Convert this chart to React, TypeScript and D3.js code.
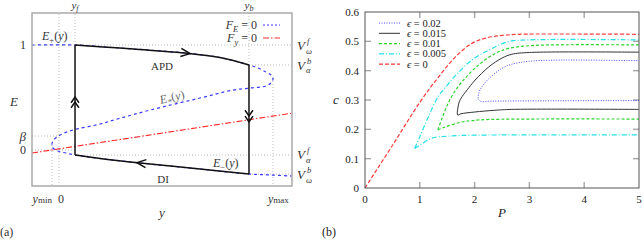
import * as d3 from "d3";

type Pt = [number, number];

// ---------- panel (a): schematic (y, E) phase plane ----------
// F_E = 0 nullcline, upper / middle / lower branches, as [y, E]
const eUpper: Pt[] = [[-0.126, 1], [0.075, 1], [0.285, 0.971], [0.589, 0.924], [0.752, 0.881], [0.888, 0.81]];
const eMiddle: Pt[] = [
  [0.93, 0.781], [0.967, 0.743], [0.991, 0.714], [1.0, 0.686], [0.995, 0.648], [0.967, 0.61],
  [0.893, 0.59], [0.813, 0.571], [0.659, 0.495], [0.425, 0.38], [0.285, 0.302], [0.192, 0.248],
  [0.065, 0.19], [0.014, 0.152], [-0.009, 0.124], [-0.028, 0.086], [-0.033, 0.048],
  [-0.028, 0.019], [-0.005, -0.01], [0.033, -0.029],
];
const eLower: Pt[] = [[0.075, -0.048], [0.192, -0.081], [0.379, -0.124], [0.659, -0.181], [0.888, -0.229], [0.986, -0.238], [1.089, -0.248]];
// F_y = 0 nullcline (straight)
const fyLine: Pt[] = [[-0.126, -0.029], [1.089, 0.351]];

const yF = 0.075, yB = 0.888, yMin = -0.033, yMax = 1.0;
const vOmegaF = 1, vAlphaB = 0.81, beta = 0.133, vAlphaF = -0.048, vOmegaB = -0.229;

// ---------- panel (b): c against P ----------
const pTicks = [0, 1, 2, 3, 4, 5];
const cTicks = [0, 0.1, 0.2, 0.3, 0.4, 0.5, 0.6];

const eps0: Pt[] = [[0, 0], [0.5, 0.145], [1.0, 0.292], [1.34, 0.378], [1.65, 0.447], [1.95, 0.493], [2.2, 0.511], [2.5, 0.52], [2.8, 0.524], [3.5, 0.525], [5, 0.524]];
const eps005Up: Pt[] = [[0.907, 0.135], [1.0, 0.175], [1.15, 0.24], [1.33, 0.31], [1.5, 0.35], [1.65, 0.383], [1.95, 0.436], [2.26, 0.47], [2.62, 0.499], [3.0, 0.505], [5, 0.505]];
const eps005Low: Pt[] = [[0.907, 0.135], [1.01, 0.147], [1.22, 0.17], [1.53, 0.177], [2.0, 0.18], [3, 0.181], [5, 0.181]];
const eps01Up: Pt[] = [[1.33, 0.198], [1.4, 0.235], [1.5, 0.282], [1.6, 0.318], [1.77, 0.362], [2.07, 0.419], [2.38, 0.459], [2.62, 0.476], [3.0, 0.485], [3.5, 0.488], [5, 0.488]];
const eps01Low: Pt[] = [[1.33, 0.198], [1.46, 0.208], [1.77, 0.225], [2.08, 0.232], [3, 0.235], [5, 0.235]];
const eps015: Pt[] = [
  [5, 0.268], [2.68, 0.268], [2.37, 0.265], [2.0, 0.259], [1.75, 0.253], [1.69, 0.249],
  [1.695, 0.272], [1.72, 0.294], [1.77, 0.311], [1.9, 0.343], [2.01, 0.368], [2.26, 0.413],
  [2.5, 0.443], [2.68, 0.456], [3.0, 0.462], [5, 0.463],
];
const eps02: Pt[] = [
  [5, 0.298], [3, 0.297], [2.3, 0.296], [2.12, 0.295], [2.07, 0.302], [2.07, 0.318], [2.1, 0.335],
  [2.18, 0.356], [2.26, 0.373], [2.5, 0.408], [2.68, 0.422], [3.0, 0.432], [3.5, 0.436], [5, 0.434],
];
const epsLabels = ["0.02", "0.015", "0.01", "0.005", "0"];

const FONT = "'Liberation Serif', 'Times New Roman', serif";

function chevron(tx: number, ty: number, dx: number, dy: number, len: number, half: number) {
  const n = Math.hypot(dx, dy);
  const bx = -dx / n, by = -dy / n;
  const c = Math.cos(half), s = Math.sin(half);
  const a1 = [bx * c - by * s, bx * s + by * c];
  const a2 = [bx * c + by * s, -bx * s + by * c];
  return `M${tx + len * a1[0]},${ty + len * a1[1]}L${tx},${ty}L${tx + len * a2[0]},${ty + len * a2[1]}`;
}

const App = () => {
  // panel (a) scales
  const ys = d3.scaleLinear([-0.126, 1.089], [32, 292]);
  const es = d3.scaleLinear([-0.343, 1.305], [186, 13]);
  const lineA = d3.line<Pt>((d) => ys(d[0]), (d) => es(d[1])).curve(d3.curveCatmullRom.alpha(0.5));
  const nullcline = [...eUpper, ...eMiddle, ...eLower];
  const apd = eUpper.filter((d) => d[0] >= yF);
  const di = eLower.filter((d) => d[0] <= yB);
  const leftTurn = d3.least(eMiddle, (d) => d[0])!;
  const rightTurn = d3.greatest(eMiddle, (d) => d[0])!;
  const yTop = es.domain()[1], yBot = es.domain()[0];
  const yL = ys.domain()[0], yR = ys.domain()[1];

  const interp = (br: Pt[], y: number) => {
    for (let i = 0; i < br.length - 1; i++) {
      const [a, b] = [br[i], br[i + 1]];
      if (y >= a[0] && y <= b[0]) {
        const t = (y - a[0]) / (b[0] - a[0]);
        return { e: a[1] + t * (b[1] - a[1]), dx: ys(b[0]) - ys(a[0]), dy: es(b[1]) - es(a[1]) };
      }
    }
    return { e: br[0][1], dx: 1, dy: 0 };
  };
  const topArrow = interp(apd, 0.612);
  const botArrow = interp(di, 0.364);

  const guides: [number, number, number, number][] = [
    [0, yBot, 0, yTop],
    [yF, vOmegaF, yF, yTop],
    [yB, vAlphaB, yB, yTop],
    [yMin, leftTurn[1], yMin, yBot],
    [yMax, rightTurn[1], yMax, yBot],
    [yL, vOmegaF, yR, vOmegaF],
    [yB, vAlphaB, yR, vAlphaB],
    [yL, beta, 0, beta],
    [yL, 0, yF, 0],
    [yF, vAlphaF, yR, vAlphaF],
    [yB, vOmegaB, yR, vOmegaB],
  ];

  // panel (b) scales
  const xs = d3.scaleLinear([0, 5], [365, 639]);
  const cs = d3.scaleLinear([0, 0.6], [188, 12]);
  const lineB = d3.line<Pt>((d) => xs(d[0]), (d) => cs(d[1])).curve(d3.curveCatmullRom.alpha(0.5));
  const series = [
    { paths: [eps02], stroke: "#4a4aff", dash: "1,1.5", w: 1 },
    { paths: [eps015], stroke: "#333", dash: "none", w: 1 },
    { paths: [eps01Up, eps01Low], stroke: "#2ad62a", dash: "3,2", w: 1.2 },
    { paths: [eps005Up, eps005Low], stroke: "#22e0e6", dash: "5,2,1,2", w: 1.2 },
    { paths: [eps0], stroke: "#ff3a3a", dash: "4,2", w: 1.2 },
  ];

  const sub = 8.5;
  const vLabel = (x: number, y: number, sup: string, subs: string) => (
    <text x={x} y={y} fontSize={13} fill="#333">
      <tspan fontStyle="italic">V</tspan>
      <tspan x={x + 10} dy={-6} fontSize={sub} fontStyle="italic">{sup}</tspan>
      <tspan x={x + 9} dy={9.5} fontSize={sub} fontStyle="italic">{subs}</tspan>
    </text>
  );

  return (
    <svg width={644} height={240} style={{ position: "absolute", left: 0, top: 0 }} fontFamily={FONT}>
      {/* ---------- (a) ---------- */}
      <g fill="none" stroke="#aaa" strokeWidth={0.8} strokeDasharray="1,2">
        {guides.map((g, i) => (
          <line key={i} x1={ys(g[0])} y1={es(g[1])} x2={ys(g[2])} y2={es(g[3])} />
        ))}
      </g>
      <path d={lineA(nullcline)!} fill="none" stroke="#3b3bff" strokeWidth={1.2} strokeDasharray="3,3" />
      <path d={d3.line<Pt>((d) => ys(d[0]), (d) => es(d[1]))(fyLine)!} fill="none" stroke="#ff2a2a" strokeWidth={1.1} strokeDasharray="6,2,1.5,2" />
      <g fill="none" stroke="#111" strokeWidth={1.5}>
        <path d={lineA(apd)!} />
        <path d={lineA(di)!} />
        <line x1={ys(yB)} y1={es(vAlphaB)} x2={ys(yB)} y2={es(vOmegaB)} />
        <line x1={ys(yF)} y1={es(vAlphaF)} x2={ys(yF)} y2={es(vOmegaF)} />
        <path d={chevron(ys(0.612), es(topArrow.e), topArrow.dx, topArrow.dy, 10, 0.42)} />
        <path d={chevron(ys(0.364), es(botArrow.e), -botArrow.dx, -botArrow.dy, 10, 0.42)} />
        <path d={chevron(ys(yF), es(0.505), 0, -1, 7, 0.6)} />
        <path d={chevron(ys(yF), es(0.457), 0, -1, 7, 0.6)} />
        <path d={chevron(ys(yB), es(0.324), 0, 1, 7, 0.6)} />
        <path d={chevron(ys(yB), es(0.267), 0, 1, 7, 0.6)} />
      </g>
      <rect x={32} y={13} width={260} height={173} fill="none" stroke="#aaa" strokeWidth={1.5} />

      <g fill="#333" fontSize={12}>
        <text x={ys(yF)} y={9} textAnchor="middle" fontSize={11}><tspan fontStyle="italic">y</tspan><tspan fontSize={8} fontStyle="italic" dy={1.5}>f</tspan></text>
        <text x={ys(yB)} y={9} textAnchor="middle" fontSize={11}><tspan fontStyle="italic">y</tspan><tspan fontSize={8} fontStyle="italic" dy={1.5}>b</tspan></text>
        <text x={26} y={es(vOmegaF) + 4} textAnchor="end">1</text>
        <text x={26} y={es(beta) + 5} textAnchor="end" fontStyle="italic" fontSize={13}>β</text>
        <text x={26} y={es(0) + 4} textAnchor="end">0</text>
        <text x={14} y={es(0.46) + 4} textAnchor="middle" fontStyle="italic" fontSize={13}>E</text>
        <text x={42} y={40}><tspan fontStyle="italic">E</tspan><tspan fontSize={sub} dy={3}>+</tspan><tspan dy={-3}>(</tspan><tspan fontStyle="italic">y</tspan>)</text>
        <text x={162} y={70} textAnchor="middle" fontSize={11}>APD</text>
        <text x={172} y={101} textAnchor="middle" fill="#666" transform="rotate(-14 172 97)"><tspan fontStyle="italic">E</tspan><tspan fontSize={sub} dy={3}>*</tspan><tspan dy={-3}>(</tspan><tspan fontStyle="italic">y</tspan>)</text>
        <text x={213} y={167}><tspan fontStyle="italic">E</tspan><tspan fontSize={sub} dy={3}>−</tspan><tspan dy={-3}>(</tspan><tspan fontStyle="italic">y</tspan>)</text>
        <text x={163} y={183} textAnchor="middle" fontSize={11}>DI</text>
        <text x={257} y={29} textAnchor="end"><tspan fontStyle="italic">F</tspan><tspan fontSize={sub} fontStyle="italic" dy={3}>E</tspan><tspan dy={-3}> = 0</tspan></text>
        <text x={257} y={42} textAnchor="end"><tspan fontStyle="italic">F</tspan><tspan fontSize={sub} fontStyle="italic" dy={3}>y</tspan><tspan dy={-3}> = 0</tspan></text>
        <text x={ys(yMin)} y={203} textAnchor="end"><tspan fontStyle="italic">y</tspan><tspan fontSize={9}>min</tspan></text>
        <text x={ys(0) + 2} y={203} textAnchor="middle">0</text>
        <text x={ys(yMax) - 5} y={203}><tspan fontStyle="italic">y</tspan><tspan fontSize={9}>max</tspan></text>
        <text x={162} y={217} textAnchor="middle" fontStyle="italic" fontSize={13}>y</text>
        <text x={0} y={236}>(a)</text>
      </g>
      <line x1={263} y1={25} x2={280} y2={25} stroke="#3b3bff" strokeWidth={1.2} strokeDasharray="2,2" />
      <line x1={263} y1={38} x2={280} y2={38} stroke="#ff2a2a" strokeWidth={1.1} strokeDasharray="6,2,1.5,2" />
      {vLabel(297, es(vOmegaF) + 5, "f", "ω")}
      {vLabel(297, es(vAlphaB) + 5, "b", "α")}
      {vLabel(297, es(vAlphaF) + 4, "f", "α")}
      {vLabel(297, es(vOmegaB) + 5, "b", "ω")}

      {/* ---------- (b) ---------- */}
      <g stroke="#aaa" strokeWidth={1.5}>
        {pTicks.slice(1, -1).map((t) => (
          <g key={t}>
            <line x1={xs(t)} x2={xs(t)} y1={cs(0)} y2={cs(0) - 6} />
            <line x1={xs(t)} x2={xs(t)} y1={cs(0.6)} y2={cs(0.6) + 6} />
          </g>
        ))}
        {cTicks.slice(1, -1).map((t) => (
          <g key={t}>
            <line x1={xs(0)} x2={xs(0) + 6} y1={cs(t)} y2={cs(t)} />
            <line x1={xs(5)} x2={xs(5) - 6} y1={cs(t)} y2={cs(t)} />
          </g>
        ))}
      </g>
      {series.map((s, i) =>
        s.paths.map((p, j) => (
          <path key={`${i}-${j}`} d={lineB(p)!} fill="none" stroke={s.stroke} strokeWidth={s.w} strokeDasharray={s.dash} />
        ))
      )}
      <rect x={xs(0)} y={cs(0.6)} width={xs(5) - xs(0)} height={cs(0) - cs(0.6)} fill="none" stroke="#555" strokeWidth={1} />
      <g fill="#222" fontSize={11}>
        {cTicks.map((t) => (
          <text key={t} x={359} y={cs(t) + 4} textAnchor="end">{t === 0 ? "0" : t.toFixed(1)}</text>
        ))}
        {pTicks.map((t) => (
          <text key={t} x={xs(t)} y={203} textAnchor="middle">{t}</text>
        ))}
        <text x={333} y={cs(0.3) + 4} fontStyle="italic" fontSize={13}>c</text>
        <text x={xs(2.5)} y={217} textAnchor="middle" fontStyle="italic" fontSize={13}>P</text>
        <text x={322} y={236} fontSize={12}>(b)</text>
        {series.map((s, i) => (
          <g key={i}>
            <line x1={379} x2={400} y1={23 + i * 10.3} y2={23 + i * 10.3} stroke={s.stroke} strokeWidth={s.w} strokeDasharray={s.dash} />
            <text x={407} y={23 + i * 10.3 + 3.5} fontSize={10.5}>
              <tspan fontStyle="italic">ϵ</tspan> = {epsLabels[i]}
            </text>
          </g>
        ))}
      </g>
    </svg>
  );
};

export default App;
